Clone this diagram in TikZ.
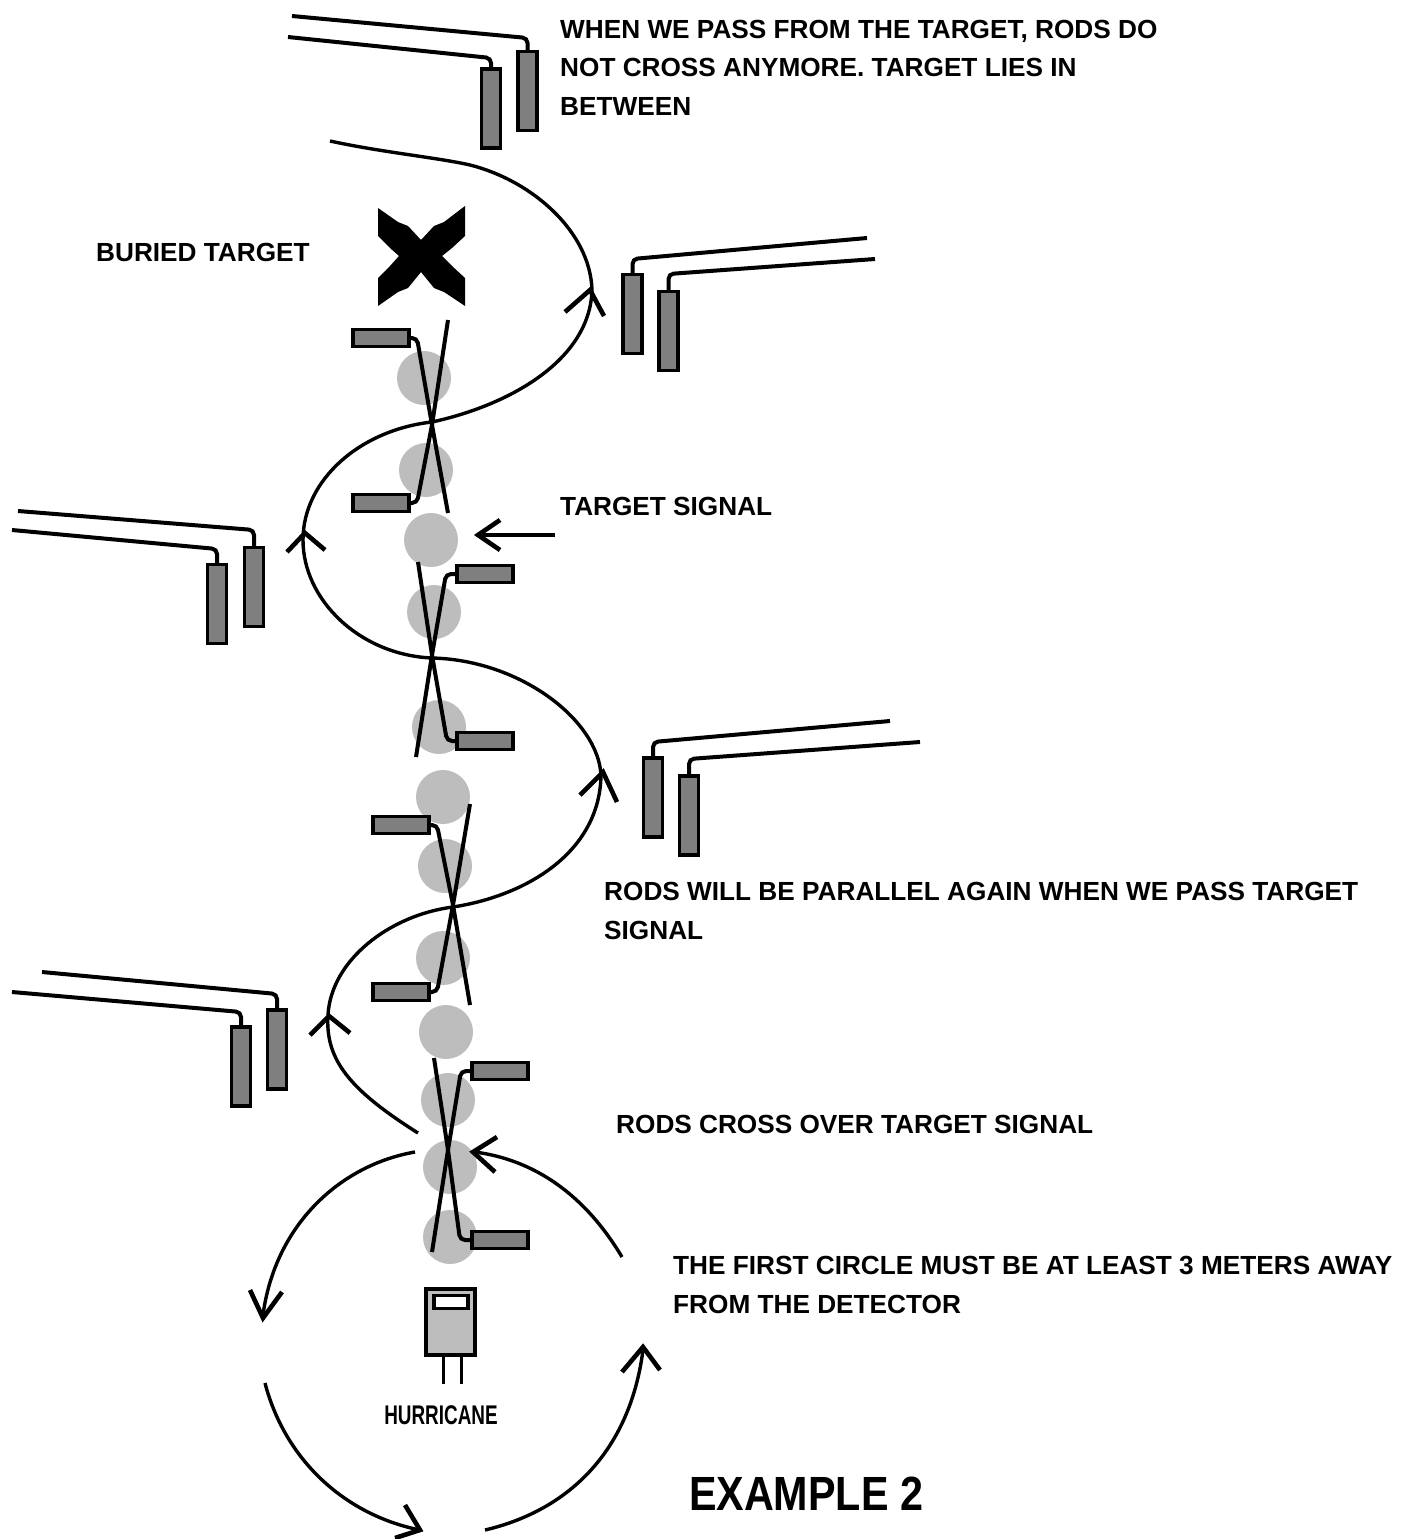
\documentclass[tikz,border=0pt]{standalone}
\usepackage{fontspec}
\setmainfont{Liberation Sans}
\usetikzlibrary{positioning}
\definecolor{rodgray}{HTML}{7F7F7F}
\definecolor{signal}{HTML}{BDBDBD}
\begin{document}
\begin{tikzpicture}[x=1pt, y=-1pt, every node/.style={font=\bfseries\fontsize{26.2}{38.5}\selectfont},
 rod/.style={draw, fill=rodgray, line width=3.2pt, inner sep=0pt, minimum width=19pt, minimum height=79pt},
 handle/.style={draw, fill=rodgray, line width=3.2pt, inner sep=0pt, minimum width=56pt, minimum height=17pt},
 disc/.style={circle, fill=signal, inner sep=0pt, minimum size=54pt},
 wire/.style={line width=4pt, rounded corners=5pt},
 crossing/.style={line width=4pt, rounded corners=5pt},
 track/.style={line width=3.4pt, line join=round},
 barb/.style={line width=4.6pt, line join=miter},
 lbl/.style={anchor=north west, align=left, inner sep=0pt, text depth=0pt}]
\useasboundingbox (0,0) rectangle (1411,1539);
% signal discs along the walking line
\node[disc] (s1) at (424,378) {};
\node[disc] (s2) at (426,470) {};
\node[disc] (s3) at (431,540) {};
\node[disc] (s4) at (434,612) {};
\node[disc] (s5) at (439,727) {};
\node[disc] (s6) at (443,797) {};
\node[disc] (s7) at (445,866) {};
\node[disc] (s8) at (443,958) {};
\node[disc] (s9) at (446,1032) {};
\node[disc] (s10) at (448,1100) {};
\node[disc] (s11) at (450,1167) {};
\node[disc] (s12) at (450,1237) {};
% parallel rods
\node[rod] (rodA) at (491,108.5) {};
\node[rod] (rodB) at (527.5,91) {};
\node[rod] (rodC) at (632.5,314) {};
\node[rod] (rodD) at (668.5,331) {};
\node[rod] (rodE) at (217,604) {};
\node[rod] (rodF) at (254,587) {};
\node[rod] (rodG) at (653,797.5) {};
\node[rod] (rodH) at (689,815.5) {};
\node[rod] (rodJ) at (241,1066.5) {};
\node[rod] (rodK) at (277,1049.5) {};
\draw[wire] (rodA.north) -- (491,58) -- (288,37);
\draw[wire] (rodB.north) -- (527.5,38) -- (292,16);
\draw[wire] (rodC.north) -- (632.5,259) -- (867,238);
\draw[wire] (rodD.north) -- (668.5,274) -- (875,259);
\draw[wire] (rodE.north) -- (217,549) -- (12,530);
\draw[wire] (rodF.north) -- (254,530) -- (18,511);
\draw[wire] (rodG.north) -- (653,742) -- (890,721);
\draw[wire] (rodH.north) -- (689,759) -- (920,742);
\draw[wire] (rodJ.north) -- (241,1012) -- (12,992);
\draw[wire] (rodK.north) -- (277,994) -- (42,972);
% crossed rods
\node[handle] (hA) at (381,338) {};
\node[handle] (hB) at (381,503) {};
\node[handle] (hC) at (485,574) {};
\node[handle] (hD) at (485,741) {};
\node[handle] (hE) at (401,825) {};
\node[handle] (hF) at (401,992) {};
\node[handle] (hG) at (500,1071) {};
\node[handle] (hH) at (500,1240) {};
\draw[crossing] (hA.east) -- (417,338) -- (432,425) -- (448,513);
\draw[crossing] (hB.east) -- (417,503) -- (432,425) -- (448,320);
\draw[crossing] (hC.west) -- (446,574) -- (432,655) -- (416,757);
\draw[crossing] (hD.west) -- (447,741) -- (432,655) -- (418,562);
\draw[crossing] (hE.east) -- (437,825) -- (453,905) -- (470,1005);
\draw[crossing] (hF.east) -- (437,992) -- (453,905) -- (470,804);
\draw[crossing] (hG.west) -- (461,1071) -- (448,1150) -- (432,1252);
\draw[crossing] (hH.west) -- (460,1240) -- (448,1150) -- (434,1058);
% buried target
\fill (378,208) -- (398,222) -- (408,226) -- (421,240) -- (434,226) -- (444,222) -- (465,206) -- (465,236) -- (452,248) -- (442,256) -- (452,266) -- (465,278) -- (465,306) -- (444,292) -- (434,288) -- (421,272) -- (408,288) -- (398,292) -- (378,306) -- (378,278) -- (390,266) -- (399,256) -- (390,248) -- (378,236) -- cycle;
% walking path, bottom to top
\draw[track] (418,1133) .. controls (350,1090) and (325,1060) .. (328,1015) .. controls (331,960) and (390,915) .. (453,907) .. controls (530,895) and (600,850) .. (601,775) .. controls (598,720) and (520,660) .. (432,658) .. controls (360,655) and (303,600) .. (303,540) .. controls (303,480) and (360,430) .. (432,422) .. controls (510,405) and (590,360) .. (592,290) .. controls (590,230) and (530,180) .. (470,165) .. controls (440,158) and (380,152) .. (330,141);
\draw[barb] (565,312) -- (590,290) -- (604,316);
\draw[barb] (580,795) -- (603,772) -- (617,802);
\draw[barb] (287,552) -- (305,533) -- (325,550);
\draw[barb] (310,1035) -- (329,1016) -- (350,1033);
% first circle round the detector
\draw[track] (415,1152) .. controls (340,1165) and (275,1225) .. (263,1315);
\draw[track] (265,1383) .. controls (285,1460) and (345,1515) .. (420,1530);
\draw[track] (485,1530) .. controls (570,1510) and (630,1450) .. (643,1350);
\draw[track] (622,1257) .. controls (585,1195) and (535,1160) .. (475,1152);
\draw[barb] (250,1290) -- (263,1318) -- (282,1292);
\draw[barb] (405,1505) -- (420,1530) -- (395,1538);
\draw[barb] (622,1372) -- (643,1347) -- (660,1370);
\draw[barb] (497,1137) -- (473,1152) -- (495,1172);
% detector
\node[draw, fill=signal, line width=3.6pt, inner sep=0pt, minimum width=49pt, minimum height=66pt] (det) at (450.5,1322) {};
\node[draw, fill=white, line width=3.6pt, inner sep=0pt, minimum width=34pt, minimum height=13pt] (screen) at (451,1302) {};
\draw[line width=3.4pt] ([xshift=-7pt]det.south) -- ++(0,27);
\draw[line width=3.4pt] ([xshift=11pt]det.south) -- ++(0,27);
% labels
\node[lbl] (t1) at (560,20) {WHEN WE PASS FROM THE TARGET, RODS DO\\NOT CROSS ANYMORE. TARGET LIES IN\\BETWEEN};
\node[lbl] (t2) at (96,243) {BURIED TARGET};
\node[lbl] (t3) at (560,497) {TARGET SIGNAL};
\node[lbl] (t4) at (604,882) {RODS WILL BE PARALLEL AGAIN WHEN WE PASS TARGET\\SIGNAL};
\node[lbl] (t5) at (616,1115) {RODS CROSS OVER TARGET SIGNAL};
\node[lbl] (t6) at (673,1256) {THE FIRST CIRCLE MUST BE AT LEAST 3 METERS AWAY\\FROM THE DETECTOR};
\node[inner sep=0pt] (hurricane) at (441,1415) {\scalebox{0.7}[1]{\fontsize{27}{30}\selectfont HURRICANE}};
\node[inner sep=0pt] (example) at (806,1494) {\scalebox{0.86}[1]{\fontsize{48}{50}\selectfont EXAMPLE 2}};
% arrow to the target signal disc
\draw[line width=3.6pt] (555,535) -- (482,535);
\draw[barb] (500,520) -- (478,535) -- (500,550);
\end{tikzpicture}
\end{document}
